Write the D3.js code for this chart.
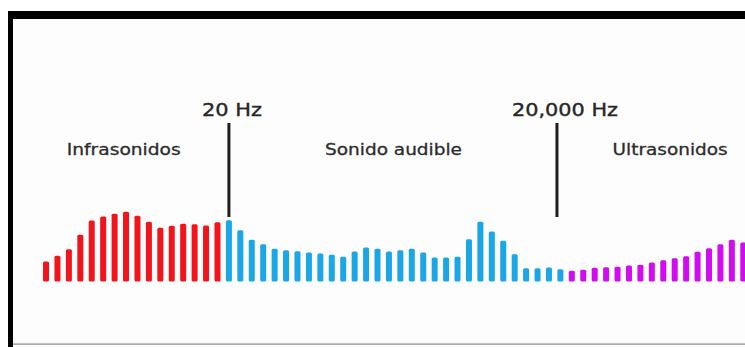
<!DOCTYPE html>
<html>
<head>
<meta charset="utf-8">
<script src="https://cdn.jsdelivr.net/npm/d3@7"></script>
<style>
	body { margin: 0; background: #ffffff; }
	svg { display: block; }
</style>
</head>
<body>
<svg id="mysvg" width="745" height="347"></svg>
<script>

// bar heights (relative level)
var infraValues = [20, 25.7, 32.3, 46.7, 61, 65, 67.7, 69.7, 65.7, 59.7, 53.7, 55.7, 57.7, 57.3, 56, 59.3];
var audibleValues = [61.3, 51.3, 41.7, 37.3, 32.7, 31.3, 30.3, 29, 28, 26.7, 24.7, 30, 34, 32.7, 30,
	31.3, 32.7, 29, 24, 24, 24.7, 42.3, 59.7, 50, 40.7, 27.3, 13.3, 13.3, 14, 12.3];
var ultraValues = [10.7, 11.7, 13.7, 14.3, 14.7, 16, 16.7, 19, 21.3, 23.3, 25.3, 29.7, 33.3, 37.3, 41.7, 39];

var regionNames = ["Infrasonidos", "Sonido audible", "Ultrasonidos"];
var regionColors = ["#f2141b", "#1ba6e6", "#d20cf0"];
var regionLabelAt = [6.8, 30.4, 54.6];

var markerLabels = ["20 Hz", "20,000 Hz"];
var markerAt = [16, 44.7];

function drawChart () {

	var svg = d3.select("#mysvg");

	var bars = [];
	[infraValues, audibleValues, ultraValues].forEach(function (arr, r) {
		arr.forEach(function (v) {
			bars.push({ region: r, value: v });
		});
	});

	var x = d3.scaleBand()
			.domain(d3.range(bars.length))
			.range([40.3, 749])
			.paddingInner(0.475)
			.paddingOuter(0.2375);

	// centre of bar i, also for in-between positions
	var xc = d3.scaleLinear()
			.domain([0, bars.length - 1])
			.range([x(0) + x.bandwidth() / 2, x(bars.length - 1) + x.bandwidth() / 2]);

	var y = d3.scaleLinear()
			.domain([0, 70])
			.range([281.5, 211.5]);

	// frame
	svg.append("rect").attr("x", 8).attr("y", 11).attr("width", 737).attr("height", 336).attr("fill", "#fdfdfd");
	svg.append("rect").attr("x", 8).attr("y", 11).attr("width", 737).attr("height", 8).attr("fill", "#000");
	svg.append("rect").attr("x", 8).attr("y", 11).attr("width", 5).attr("height", 336).attr("fill", "#000");
	svg.append("rect").attr("x", 13).attr("y", 343.5).attr("width", 732).attr("height", 1.2).attr("fill", "#8a8a8a");

	svg.append("g")
		.selectAll("rect")
		.data(bars)
		.join("rect")
			.attr("x", function (d, i) { return x(i); })
			.attr("y", function (d) { return y(d.value); })
			.attr("width", x.bandwidth())
			.attr("height", function (d) { return y(0) - y(d.value); })
			.attr("rx", 1.5)
			.attr("fill", function (d) { return regionColors[d.region]; });

	// markers (labels sit a little right of the line)
	var labelShift = [3, 8];
	var mk = svg.append("g");
	markerLabels.forEach(function (lab, k) {
		mk.append("line")
			.attr("x1", xc(markerAt[k])).attr("x2", xc(markerAt[k]))
			.attr("y1", 123).attr("y2", 217)
			.attr("stroke", "#1e1e1e")
			.attr("stroke-width", 3);
		mk.append("text")
			.attr("x", xc(markerAt[k]) + labelShift[k])
			.attr("y", 115.5)
			.attr("text-anchor", "middle")
			.attr("font-family", "DejaVu Sans")
			.attr("font-size", 17)
			.attr("fill", "#262626")
			.attr("stroke", "#262626")
			.attr("stroke-width", 0.35)
			.attr("textLength", k == 0 ? 60 : 106)
			.attr("lengthAdjust", "spacingAndGlyphs")
			.text(lab);
	});

	var widths = [114, 137, 115];
	svg.append("g")
		.selectAll("text")
		.data(regionNames)
		.join("text")
			.attr("x", function (d, i) { return xc(regionLabelAt[i]); })
			.attr("y", 155)
			.attr("text-anchor", "middle")
			.attr("font-family", "DejaVu Sans")
			.attr("font-size", 16)
			.attr("fill", "#2b2b2b")
			.attr("stroke", "#2b2b2b")
			.attr("stroke-width", 0.3)
			.attr("textLength", function (d, i) { return widths[i]; })
			.attr("lengthAdjust", "spacingAndGlyphs")
			.text(function (d) { return d; });
}

drawChart();
</script>
</body>
</html>
